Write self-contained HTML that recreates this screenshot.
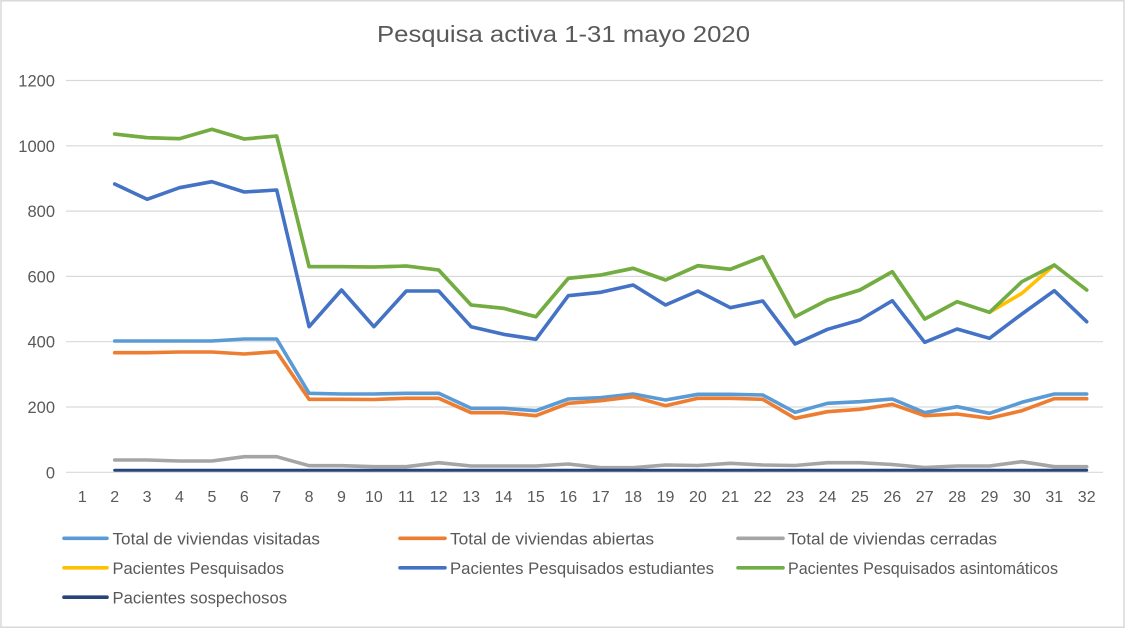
<!DOCTYPE html>
<html>
<head>
<meta charset="utf-8">
<style>
  html,body{margin:0;padding:0;background:#fff;}
  svg{display:block;}
  text{font-family:"Liberation Sans",Arial,sans-serif;fill:#595959;}
</style>
</head>
<body>
<svg width="1126" height="629" viewBox="0 0 1126 629" xmlns="http://www.w3.org/2000/svg">
  <rect x="0" y="0" width="1126" height="629" fill="#fff"/>
  <rect x="1" y="0.75" width="1123" height="626.5" fill="none" stroke="#d9d9d9" stroke-width="1.5"/>

  <!-- title -->
  <text x="377" y="42" font-size="23.5" textLength="373" lengthAdjust="spacingAndGlyphs">Pesquisa activa 1-31 mayo 2020</text>

  <!-- gridlines -->
  <g stroke="#d9d9d9" stroke-width="1.2">
    <line x1="66" y1="80.5" x2="1103" y2="80.5"/>
    <line x1="66" y1="145.8" x2="1103" y2="145.8"/>
    <line x1="66" y1="211.1" x2="1103" y2="211.1"/>
    <line x1="66" y1="276.4" x2="1103" y2="276.4"/>
    <line x1="66" y1="341.7" x2="1103" y2="341.7"/>
    <line x1="66" y1="407" x2="1103" y2="407"/>
    <line x1="66" y1="472.3" x2="1103" y2="472.3"/>
  </g>

  <!-- y labels -->
  <g font-size="16.5" text-anchor="end">
    <text x="55" y="86.5">1200</text>
    <text x="55" y="151.8">1000</text>
    <text x="55" y="217.1">800</text>
    <text x="55" y="282.4">600</text>
    <text x="55" y="347.7">400</text>
    <text x="55" y="413">200</text>
    <text x="55" y="478.3">0</text>
  </g>

  <!-- x labels -->
  <g font-size="16" text-anchor="middle">
    <text x="82.3" y="502">1</text>
    <text x="114.7" y="502">2</text>
    <text x="147.1" y="502">3</text>
    <text x="179.5" y="502">4</text>
    <text x="211.9" y="502">5</text>
    <text x="244.3" y="502">6</text>
    <text x="276.7" y="502">7</text>
    <text x="309.1" y="502">8</text>
    <text x="341.5" y="502">9</text>
    <text x="373.9" y="502">10</text>
    <text x="406.3" y="502">11</text>
    <text x="438.7" y="502">12</text>
    <text x="471.1" y="502">13</text>
    <text x="503.5" y="502">14</text>
    <text x="535.9" y="502">15</text>
    <text x="568.3" y="502">16</text>
    <text x="600.7" y="502">17</text>
    <text x="633.1" y="502">18</text>
    <text x="665.5" y="502">19</text>
    <text x="697.9" y="502">20</text>
    <text x="730.3" y="502">21</text>
    <text x="762.7" y="502">22</text>
    <text x="795.1" y="502">23</text>
    <text x="827.5" y="502">24</text>
    <text x="859.9" y="502">25</text>
    <text x="892.3" y="502">26</text>
    <text x="924.7" y="502">27</text>
    <text x="957.1" y="502">28</text>
    <text x="989.5" y="502">29</text>
    <text x="1021.9" y="502">30</text>
    <text x="1054.3" y="502">31</text>
    <text x="1086.7" y="502">32</text>
  </g>

  <!-- series -->
  <g fill="none" stroke-width="3.6" stroke-linejoin="round" stroke-linecap="round">
    <!-- Total de viviendas visitadas -->
    <polyline stroke="#5B9BD5" points="114.7,341 147.1,341 179.5,341 211.9,341 244.3,339 276.7,339 309.1,393.3 341.5,394 373.9,394 406.3,393.3 438.7,393.3 471.1,408.3 503.5,408.3 535.9,410.7 568.3,399 600.7,397.7 633.1,394 665.5,400 697.9,394.3 730.3,394.3 762.7,395 795.1,412.3 827.5,403.3 859.9,401.7 892.3,399 924.7,412.7 957.1,406.7 989.5,413.3 1021.9,402.3 1054.3,394 1086.7,394"/>
    <!-- Total de viviendas abiertas -->
    <polyline stroke="#ED7D31" points="114.7,352.7 147.1,352.7 179.5,352 211.9,352 244.3,354 276.7,351.7 309.1,399.3 341.5,399.3 373.9,399.5 406.3,398.3 438.7,398.3 471.1,412.7 503.5,412.7 535.9,415.7 568.3,403.3 600.7,400.7 633.1,396.7 665.5,405.7 697.9,398.3 730.3,398.3 762.7,399.3 795.1,418.3 827.5,411.7 859.9,409.3 892.3,404.3 924.7,415.7 957.1,414 989.5,418.3 1021.9,410.7 1054.3,398.7 1086.7,398.7"/>
    <!-- Total de viviendas cerradas -->
    <polyline stroke="#A5A5A5" points="114.7,460 147.1,460 179.5,461 211.9,461 244.3,456.7 276.7,456.7 309.1,465.7 341.5,465.7 373.9,466.7 406.3,466.7 438.7,462.7 471.1,466 503.5,466 535.9,466 568.3,464 600.7,467.7 633.1,467.7 665.5,465 697.9,465.5 730.3,463.3 762.7,465 795.1,465.5 827.5,462.7 859.9,462.7 892.3,464.5 924.7,467.5 957.1,466 989.5,466 1021.9,461.7 1054.3,466.7 1086.7,466.7"/>
    <!-- Pacientes Pesquisados (yellow) -->
    <polyline stroke="#FFC000" points="114.7,134 147.1,137.7 179.5,138.7 211.9,129.3 244.3,139 276.7,136 309.1,266.7 341.5,266.7 373.9,267 406.3,266 438.7,270 471.1,305 503.5,308.3 535.9,316.7 568.3,278.3 600.7,275 633.1,268.3 665.5,280 697.9,265.7 730.3,269.3 762.7,256.7 795.1,316.7 827.5,300 859.9,290 892.3,271.7 924.7,319 957.1,301.7 989.5,312.3 1021.9,293.3 1054.3,265 1086.7,290"/>
    <!-- Pacientes Pesquisados estudiantes -->
    <polyline stroke="#4472C4" points="114.7,184 147.1,199.3 179.5,187.7 211.9,181.7 244.3,192 276.7,190 309.1,326.7 341.5,290 373.9,326.7 406.3,291 438.7,291 471.1,326.7 503.5,334.3 535.9,339.3 568.3,295.7 600.7,292.3 633.1,285 665.5,305 697.9,291 730.3,307.7 762.7,301 795.1,344 827.5,329.3 859.9,320 892.3,300.7 924.7,342.3 957.1,329 989.5,338.3 1021.9,314 1054.3,290.7 1086.7,321.7"/>
    <!-- Pacientes Pesquisados asintomáticos -->
    <polyline stroke="#70AD47" points="114.7,134 147.1,137.7 179.5,138.7 211.9,129.3 244.3,139 276.7,136 309.1,266.7 341.5,266.7 373.9,267 406.3,266 438.7,270 471.1,305 503.5,308.3 535.9,316.7 568.3,278.3 600.7,275 633.1,268.3 665.5,280 697.9,265.7 730.3,269.3 762.7,256.7 795.1,316.7 827.5,300 859.9,290 892.3,271.7 924.7,319 957.1,301.7 989.5,312.3 1021.9,281.7 1054.3,265 1086.7,290"/>
    <!-- Pacientes sospechosos -->
    <polyline stroke="#264478" stroke-width="3" points="114.7,470.3 147.1,470.3 179.5,470.3 211.9,470.3 244.3,470.3 276.7,470.3 309.1,470.3 341.5,470.3 373.9,470.3 406.3,470.3 438.7,470.3 471.1,470.3 503.5,470.3 535.9,470.3 568.3,470.3 600.7,470.3 633.1,470.3 665.5,470.3 697.9,470.3 730.3,470.3 762.7,470.3 795.1,470.3 827.5,470.3 859.9,470.3 892.3,470.3 924.7,470.3 957.1,470.3 989.5,470.3 1021.9,470.3 1054.3,470.3 1086.7,470.3"/>
  </g>

  <!-- legend -->
  <g stroke-width="3.6" stroke-linecap="round">
    <line x1="64" y1="538.3" x2="107" y2="538.3" stroke="#5B9BD5"/>
    <line x1="400" y1="538.3" x2="445" y2="538.3" stroke="#ED7D31"/>
    <line x1="738" y1="538.3" x2="783" y2="538.3" stroke="#A5A5A5"/>
    <line x1="64" y1="567.8" x2="107" y2="567.8" stroke="#FFC000"/>
    <line x1="400" y1="567.8" x2="445" y2="567.8" stroke="#4472C4"/>
    <line x1="738" y1="567.8" x2="783" y2="567.8" stroke="#70AD47"/>
    <line x1="64" y1="597.2" x2="107" y2="597.2" stroke="#264478"/>
  </g>
  <g font-size="16.5">
    <text x="112.5" y="544.5" textLength="207.5" lengthAdjust="spacingAndGlyphs">Total de viviendas visitadas</text>
    <text x="450" y="544.5" textLength="204" lengthAdjust="spacingAndGlyphs">Total de viviendas abiertas</text>
    <text x="788" y="544.5" textLength="209" lengthAdjust="spacingAndGlyphs">Total de viviendas cerradas</text>
    <text x="112.5" y="574" textLength="171.5" lengthAdjust="spacingAndGlyphs">Pacientes Pesquisados</text>
    <text x="450" y="574" textLength="264" lengthAdjust="spacingAndGlyphs">Pacientes Pesquisados estudiantes</text>
    <text x="788" y="574" textLength="270" lengthAdjust="spacingAndGlyphs">Pacientes Pesquisados asintomáticos</text>
    <text x="112.5" y="603.4" textLength="174.5" lengthAdjust="spacingAndGlyphs">Pacientes sospechosos</text>
  </g>
</svg>
</body>
</html>
